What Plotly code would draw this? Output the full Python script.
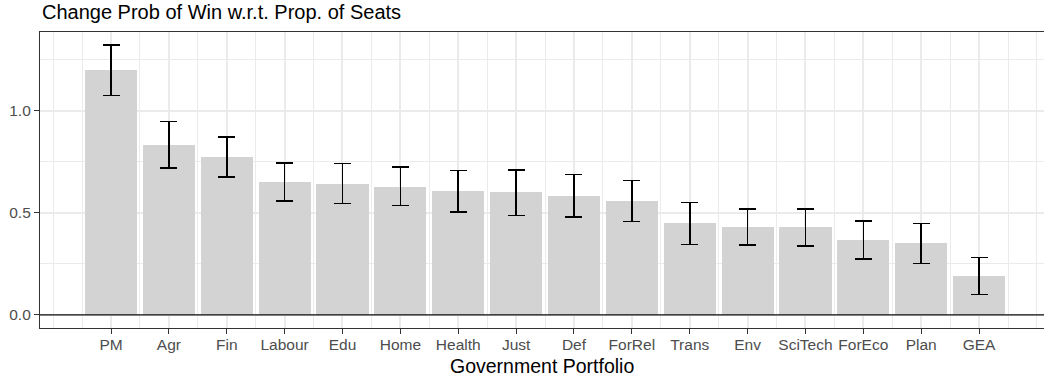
import plotly.graph_objects as go

# Portfolio estimates with confidence bounds
portfolios = ["PM", "Agr", "Fin", "Labour", "Edu", "Home", "Health", "Just",
              "Def", "ForRel", "Trans", "Env", "SciTech", "ForEco", "Plan", "GEA"]
estimate = [1.201, 0.833, 0.775, 0.652, 0.642, 0.627, 0.608, 0.603,
            0.583, 0.559, 0.451, 0.431, 0.431, 0.368, 0.353, 0.191]
lower = [1.075, 0.721, 0.676, 0.559, 0.546, 0.536, 0.505, 0.487,
         0.480, 0.459, 0.346, 0.343, 0.338, 0.273, 0.253, 0.101]
upper = [1.324, 0.948, 0.871, 0.745, 0.742, 0.725, 0.709, 0.712,
         0.688, 0.660, 0.551, 0.518, 0.520, 0.461, 0.448, 0.281]

y_ticks = [0.0, 0.5, 1.0]
y_tick_labels = ["0.0", "0.5", "1.0"]

positions = list(range(1, len(portfolios) + 1))

FONT = "Liberation Sans, Arial, sans-serif"
GRID = "#EBEBEB"
DARK = "#333333"
TICKTXT = "#4D4D4D"

fig = go.Figure()
fig.add_trace(go.Bar(
    x=positions,
    y=estimate,
    width=0.9,
    marker=dict(color="#D3D3D3", line=dict(width=0)),
    error_y=dict(
        type="data",
        symmetric=False,
        array=[u - e for u, e in zip(upper, estimate)],
        arrayminus=[e - l for e, l in zip(estimate, lower)],
        color="black",
        thickness=1.6,
        width=8.5,
    ),
    hoverinfo="skip",
))

fig.add_shape(type="line", xref="paper", x0=0, x1=1, yref="y", y0=0, y1=0,
              line=dict(color="#111111", width=1.2), layer="above")

fig.update_layout(
    width=1044,
    height=387,
    margin=dict(l=40, r=0, t=32, b=59),
    paper_bgcolor="white",
    plot_bgcolor="white",
    showlegend=False,
    font=dict(family=FONT),
    bargap=0,
    annotations=[
        dict(text="Change Prob of Win w.r.t. Prop. of Seats", xref="paper", yref="paper",
             x=0, y=1.0, xanchor="left", yanchor="bottom", yshift=7, showarrow=False,
             font=dict(size=20, color="black", family=FONT)),
        dict(text="Government Portfolio", xref="paper", yref="paper",
             x=0.5, y=0, xanchor="center", yanchor="top", yshift=-25, showarrow=False,
             font=dict(size=19.5, color="black", family=FONT)),
    ],
)

fig.update_xaxes(
    range=[-0.227, 17.122],
    tickmode="array",
    tickvals=positions,
    ticktext=portfolios,
    ticks="outside",
    ticklen=5,
    tickwidth=1.2,
    tickcolor=DARK,
    ticklabelstandoff=-3,
    tickfont=dict(size=15.5, color=TICKTXT, family=FONT),
    showgrid=True,
    gridcolor=GRID,
    gridwidth=1.5,
    minor=dict(tick0=0, dtick=0.5, showgrid=True, gridcolor=GRID, gridwidth=0.8, ticks=""),
    showline=True,
    linecolor=DARK,
    linewidth=1.2,
    mirror=True,
    zeroline=False,
    fixedrange=True,
)

fig.update_yaxes(
    range=[-0.064, 1.387],
    tickmode="array",
    tickvals=y_ticks,
    ticktext=y_tick_labels,
    ticks="outside",
    ticklen=5,
    tickwidth=1.2,
    tickcolor=DARK,
    tickfont=dict(size=15.5, color=TICKTXT, family=FONT),
    showgrid=True,
    gridcolor=GRID,
    gridwidth=1.5,
    minor=dict(tick0=0.25, dtick=0.5, showgrid=True, gridcolor=GRID, gridwidth=0.8, ticks=""),
    showline=True,
    linecolor=DARK,
    linewidth=1.2,
    mirror=False,
    zeroline=False,
    fixedrange=True,
)

fig.write_html("out.html")
